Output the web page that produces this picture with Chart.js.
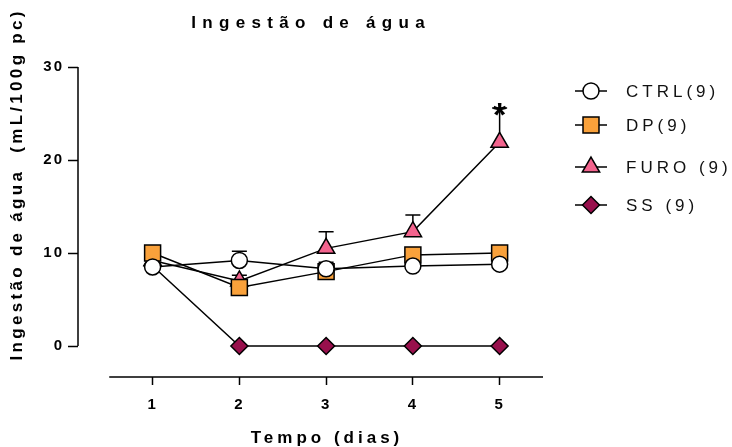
<!DOCTYPE html>
<html>
<head>
<meta charset="utf-8">
<script src="https://cdn.jsdelivr.net/npm/chart.js@4"></script>
<style>
html, body { margin: 0; padding: 0; background: #fff; }
</style>
</head>
<body>
<canvas id="chart" width="732" height="447"></canvas>
<script>
// Values (mean, SEM upwards)
const days = [1, 2, 3, 4, 5];
const ctrl = [8.5, 9.2, 8.3, 8.6, 8.8];
const ctrlErr = [0.4, 1.0, 0.7, 0.4, 0.4];
const dp = [10.0, 6.3, 8.0, 9.8, 10.0];
const dpErr = [0.5, 0.5, 0.6, 0.5, 0.5];
const furo = [9.2, 7.0, 10.5, 12.3, 21.9];
const furoErr = [0.5, 0.6, 1.8, 1.8, 3.7];
const furoSig = ['', '', '', '', '*'];
const ss = [8.6, 0, 0, 0, 0];
const ssErr = [0, 0, 0, 0, 0];
const yTicks = [0, 10, 20, 30];
const xTicks = [1, 2, 3, 4, 5];
const xAxisSpan = [0.5, 5.5];

const FONT = 'Arial, "Liberation Sans", sans-serif';

function points(vals) {
    return days.map((d, i) => ({ x: d, y: vals[i] }));
}

const series = [
    { label: 'CTRL(9)', values: ctrl, err: ctrlErr, style: 'circle', radius: 8, fill: '#ffffff' },
    { label: 'DP(9)', values: dp, err: dpErr, style: 'rect', radius: 11.3, fill: '#F9A13B' },
    { label: 'FURO (9)', values: furo, err: furoErr, sig: furoSig, style: 'triangle', radius: 10, fill: '#F3648E' },
    { label: 'SS (9)', values: ss, err: ssErr, style: 'rectRot', radius: 8.5, fill: '#98104C' }
];

// draws text with letter spacing, centred (or left) at x
function spaced(ctx, text, x, y, spacing, align) {
    ctx.letterSpacing = spacing + 'px';
    const w = ctx.measureText(text).width - spacing;
    ctx.textAlign = 'left';
    ctx.fillText(text, align === 'left' ? x : x - w / 2, y);
}

const decor = {
    id: 'decor',
    beforeDraw(chart) {
        chart.ctx.letterSpacing = '2px';
    },
    beforeDatasetsDraw(chart) {
        const ctx = chart.ctx;
        const xs = chart.scales.x, ys = chart.scales.y;
        ctx.save();
        ctx.strokeStyle = '#000';
        ctx.lineWidth = 1.5;
        series.forEach(s => {
            s.values.forEach((v, i) => {
                if (!s.err[i]) return;
                const px = xs.getPixelForValue(days[i]);
                const y0 = ys.getPixelForValue(v);
                const y1 = ys.getPixelForValue(v + s.err[i]);
                ctx.beginPath();
                ctx.moveTo(px, y0);
                ctx.lineTo(px, y1);
                ctx.moveTo(px - 7.5, y1);
                ctx.lineTo(px + 7.5, y1);
                ctx.stroke();
            });
        });
        ctx.restore();
    },
    afterDraw(chart) {
        const ctx = chart.ctx;
        const xs = chart.scales.x, ys = chart.scales.y;
        const area = chart.chartArea;
        ctx.save();
        ctx.strokeStyle = '#000';
        ctx.lineWidth = 1.5;

        // axis lines
        ctx.beginPath();
        ctx.moveTo(area.left, ys.getPixelForValue(yTicks[0]));
        ctx.lineTo(area.left, ys.getPixelForValue(yTicks[yTicks.length - 1]));
        ctx.moveTo(xs.getPixelForValue(xAxisSpan[0]), area.bottom);
        ctx.lineTo(xs.getPixelForValue(xAxisSpan[1]), area.bottom);
        ctx.stroke();

        // significance marks
        ctx.fillStyle = '#000';
        ctx.font = 'bold 34px ' + FONT;
        ctx.textBaseline = 'alphabetic';
        series.forEach(s => {
            if (!s.sig) return;
            s.sig.forEach((m, i) => {
                if (!m) return;
                const px = xs.getPixelForValue(days[i]);
                const top = ys.getPixelForValue(s.values[i] + s.err[i]);
                spaced(ctx, m, px, top + 18, 0);
            });
        });

        // titles
        ctx.textBaseline = 'middle';
        ctx.font = 'bold 17px ' + FONT;
        spaced(ctx, 'Ingestão de água', 308, 23, 6.3);
        spaced(ctx, 'Tempo (dias)', 325, 438, 4);
        ctx.save();
        ctx.translate(17, 186);
        ctx.rotate(-Math.PI / 2);
        spaced(ctx, 'Ingestão de água  (mL/100g pc)', 0, 0, 3.3);
        ctx.restore();

        // legend
        const rows = [91, 125, 167, 205];
        series.forEach((s, i) => {
            const y = rows[i];
            ctx.beginPath();
            ctx.moveTo(575, y);
            ctx.lineTo(607, y);
            ctx.stroke();
            ctx.fillStyle = s.fill;
            Chart.helpers.drawPoint(ctx, { pointStyle: s.style, radius: s.radius, rotation: 0, borderWidth: 1.5 }, 591, y);
            ctx.fillStyle = '#111';
            ctx.font = '17px ' + FONT;
            spaced(ctx, s.label, 626, y + 1, 4, 'left');
        });
        ctx.restore();
    }
};

new Chart(document.getElementById('chart'), {
    type: 'line',
    data: {
        datasets: series.map(s => ({
            label: s.label,
            data: points(s.values),
            borderColor: '#000',
            borderWidth: 1.5,
            pointStyle: s.style,
            pointRadius: s.radius,
            pointHoverRadius: s.radius,
            pointBackgroundColor: s.fill,
            pointBorderColor: '#000',
            pointBorderWidth: 1.5,
            tension: 0,
            fill: false
        }))
    },
    options: {
        responsive: false,
        animation: false,
        layout: { padding: { left: 0, top: 67, right: 189, bottom: 0 } },
        plugins: {
            legend: { display: false },
            title: { display: false },
            tooltip: { enabled: false }
        },
        scales: {
            x: {
                type: 'linear',
                min: 0.14,
                max: 5.5,
                afterBuildTicks: axis => { axis.ticks = xTicks.map(v => ({ value: v })); },
                afterFit: axis => { axis.height = 70; },
                border: { display: false },
                grid: { drawOnChartArea: false, drawTicks: true, tickLength: 8, tickColor: '#000', tickWidth: 1.5 },
                ticks: { color: '#000', font: { family: FONT, size: 15, weight: 'bold' }, padding: 11, maxRotation: 0 }
            },
            y: {
                type: 'linear',
                min: -3.33,
                max: 30,
                afterBuildTicks: axis => { axis.ticks = yTicks.map(v => ({ value: v })); },
                afterFit: axis => { axis.width = 78; },
                border: { display: false },
                grid: { drawOnChartArea: false, drawTicks: true, tickLength: 10, tickColor: '#000', tickWidth: 1.5 },
                ticks: { color: '#000', font: { family: FONT, size: 15, weight: 'bold' }, padding: 4 }
            }
        }
    },
    plugins: [decor]
});
</script>
</body>
</html>
